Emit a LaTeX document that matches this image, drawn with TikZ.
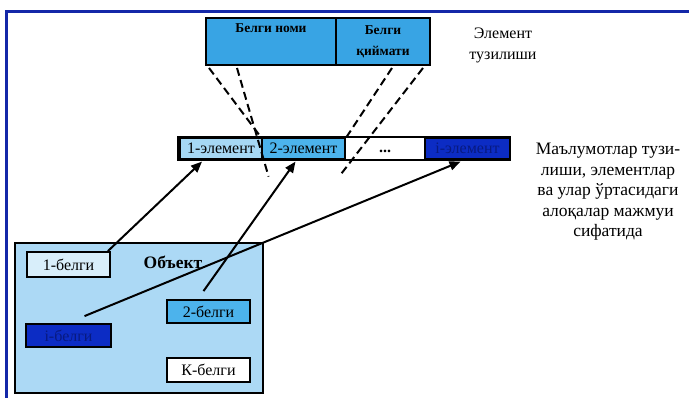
\documentclass[tikz,border=0pt]{standalone}
\usepackage{fontspec}
\setmainfont{Liberation Serif}
\usetikzlibrary{arrows.meta,calc}
\definecolor{framec}{HTML}{1428A8}
\definecolor{topblue}{HTML}{38A4E4}
\definecolor{lightcell}{HTML}{A6D8F4}
\definecolor{midcell}{HTML}{4CB3EC}
\definecolor{darkcell}{HTML}{0C2CC4}
\definecolor{darktext}{HTML}{081A80}
\definecolor{objfill}{HTML}{ACD9F5}
\definecolor{paleb}{HTML}{D8EEFA}
\tikzset{
  cell/.style={draw=black, line width=1.2pt, inner sep=0pt, minimum height=21pt,
    font=\fontsize{16}{17}\selectfont},
  topcell/.style={draw=black, line width=2pt, fill=topblue, inner sep=0pt,
    minimum height=47pt, align=center, font=\bfseries\fontsize{13.5}{21}\selectfont},
  sign/.style={draw=black, line width=1.8pt, inner sep=0pt,
    font=\fontsize{16}{17}\selectfont},
  dashline/.style={line width=2pt, dash pattern=on 8pt off 4.5pt},
  arr/.style={line width=2pt, -{Triangle[length=11pt,width=9pt]}},
  caption/.style={align=center, inner sep=0pt}
}
\begin{document}
\begin{tikzpicture}[x=1pt,y=-1pt]
\useasboundingbox (0,0) rectangle (689,398);
\fill[white] (0,0) rectangle (689,398);
% frame
\draw[framec, line width=3pt] (6,398) -- (6,12) -- (689,12);

% top element structure
\node[topcell, minimum width=130pt,
  label={[anchor=north, inner sep=0pt, font=\bfseries\fontsize{13.5}{15}\selectfont, yshift=-6pt]north:Белги номи}]
  (tn) at (271,41.5) {};
\node[topcell, minimum width=94pt] (tv) at (383,41.5) {Белги\\қиймати};
\node[caption, font=\fontsize{16}{21}\selectfont] (elcap) at (503,45) {Элемент\\тузилиши};

% data structure row
\node[draw=black, line width=2pt, minimum width=332pt, minimum height=23pt, inner sep=0pt] (row) at (344,148.5) {};
\node[cell, fill=lightcell, minimum width=82pt] (c1) at (221,148.5) {1-элемент};
\node[cell, fill=midcell, minimum width=83pt] (c2) at (303.5,148.5) {2-элемент};
\node[cell, draw=none, minimum width=80pt, font=\bfseries\fontsize{16}{16}\selectfont] (cd) at (385,151) {...};
\node[cell, fill=darkcell, text=darktext, minimum width=85pt] (ci) at (467.5,148.5) {i-элемент};
\node[caption, font=\fontsize{17.5}{20.5}\selectfont] (dscap) at (608,192)
  {Маълумотлар тузи-\\лиши, элементлар\\ва улар ўртасидаги\\алоқалар мажмуи\\сифатида};

% dashed projection lines
\coordinate (d1s) at ($(tn.south west)+(4,2)$);
\coordinate (d2s) at ($(tn.south west)+(32,2)$);
\coordinate (d3s) at ($(tv.south west)+(57,2)$);
\coordinate (d4s) at ($(tv.south east)+(-8,2)$);
\coordinate (d1e) at ($(c1.north east)+(0,2)$);
\coordinate (d2e) at ($(c1.south east)+(6,17)$);
\coordinate (d3e) at ($(c2.north east)+(0,1)$);
\coordinate (d4e) at ($(c2.south east)+(-5,15)$);
\draw[dashline] (d1s) -- (d1e);
\draw[dashline] (d2s) -- (d2e);
\draw[dashline] (d3s) -- (d3e);
\draw[dashline] (d4s) -- (d4e);

% object
\node[draw=black, line width=1.5pt, fill=objfill, minimum width=248pt, minimum height=150pt, inner sep=0pt] (obj) at (139,318) {};
\node[font=\bfseries\fontsize{17.5}{19}\selectfont] (objt) at (173,262) {Объект};
\node[sign, fill=paleb, minimum width=83pt, minimum height=25pt] (b1) at (68.5,264.5) {1-белги};
\node[sign, fill=midcell, minimum width=83pt, minimum height=23pt] (b2) at (208.5,311.5) {2-белги};
\node[sign, fill=darkcell, text=darktext, minimum width=85pt, minimum height=23pt] (bi) at (68.5,335.5) {i-белги};
\node[sign, fill=white, minimum width=83pt, minimum height=24pt] (bk) at (208.5,370) {К-белги};

% arrows
\coordinate (a1s) at ($(b1.north east)+(-3,0)$);
\coordinate (a2s) at ($(b2.north)+(-5,-8)$);
\coordinate (a3s) at ($(bi.north)+(16,-7)$);
\draw[arr] (a1s) -- ($(c1.south)+(-19,2)$);
\draw[arr] (a2s) -- ($(c2.south)+(-8,2)$);
\draw[arr] (a3s) -- ($(ci.south)+(-7,2)$);
\end{tikzpicture}
\end{document}
